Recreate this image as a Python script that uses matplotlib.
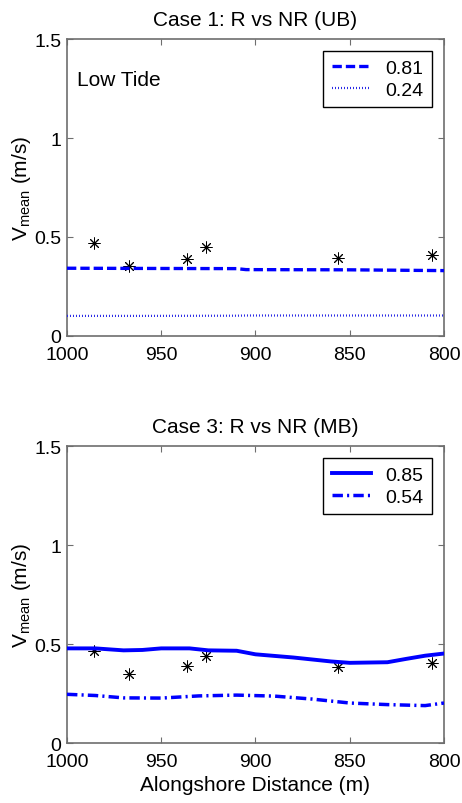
import matplotlib
matplotlib.use("Agg")
import matplotlib.pyplot as plt

plt.rcParams['font.family'] = ['Liberation Sans', 'DejaVu Sans']
plt.rcParams['mathtext.fontset'] = 'custom'
plt.rcParams['mathtext.rm'] = 'Liberation Sans'
plt.rcParams['mathtext.it'] = 'Liberation Sans'

# observations (asterisks)
obs_x = [985.5, 967.3, 936.3, 926.3, 856.4, 806.2]
obs_top = [0.468, 0.355, 0.389, 0.449, 0.395, 0.407]
obs_bot = [0.463, 0.347, 0.387, 0.441, 0.386, 0.405]

# Case 1 model lines
c1_x = [1000, 960, 910, 905, 850, 800]
c1_r = [0.342, 0.341, 0.340, 0.335, 0.334, 0.330]
c1_nr = [0.101, 0.101, 0.102, 0.103, 0.103, 0.103]

# Case 3 model lines
c3_x = [1000, 985, 970, 960, 950, 935, 925, 910, 900, 880, 860, 850, 830, 820, 810, 800]
c3_r = [0.478, 0.478, 0.468, 0.470, 0.478, 0.478, 0.468, 0.466, 0.448, 0.432, 0.412, 0.405, 0.408, 0.425, 0.441, 0.452]
c3_x2 = [1000, 985, 970, 950, 930, 910, 890, 870, 850, 830, 810, 800]
c3_nr = [0.246, 0.240, 0.228, 0.227, 0.238, 0.242, 0.237, 0.222, 0.202, 0.194, 0.189, 0.202]

labels_top = ['0.81', '0.24']
labels_bot = ['0.85', '0.54']

BLUE = '#0000ff'
SPINE = '#6e6e6e'
FS_TICK = 14
FS_TEXT = 15

fig = plt.figure(figsize=(4.62, 8.04), dpi=100)
ax1 = fig.add_axes([0.145, 0.581, 0.816, 0.369])
ax2 = fig.add_axes([0.145, 0.0746, 0.816, 0.3694])

def style(ax):
    ax.set_xlim(1000, 800)
    ax.set_ylim(0, 1.5)
    ax.set_xticks([1000, 950, 900, 850, 800])
    ax.set_yticks([0, 0.5, 1, 1.5])
    ax.set_yticklabels(['0', '0.5', '1', '1.5'])
    ax.tick_params(direction='in', top=True, right=True, length=4,
                   color=SPINE, labelsize=FS_TICK, pad=4)
    ax.tick_params(axis='x', pad=7)
    for s in ax.spines.values():
        s.set_color(SPINE)
        s.set_linewidth(1.2)
    ax.set_ylabel(r'$\mathrm{V_{mean}}$ (m/s)', fontsize=FS_TEXT, labelpad=1)

def legend(ax, handles, labels):
    leg = ax.legend(handles, labels, loc='upper right', fontsize=FS_TICK,
                    fancybox=False, edgecolor='black', framealpha=1,
                    handlelength=2.0, handletextpad=0.75, borderaxespad=0.6,
                    borderpad=0.45, labelspacing=0.2)
    leg.get_frame().set_linewidth(1.0)

MK = dict(linestyle='none', marker=(8, 2, 0), markersize=8.5, color='black',
          markeredgewidth=0.7, zorder=2)

# top panel
ax1.plot(obs_x, obs_top, **MK)
l1, = ax1.plot(c1_x, c1_r, color=BLUE, lw=2.4, dashes=(2.8, 1.2), zorder=3)
l2, = ax1.plot(c1_x, c1_nr, color='#2a2ae6', lw=1.6, dashes=(0.45, 0.9), zorder=3)
style(ax1)
ax1.set_title('Case 1: R vs NR (UB)', fontsize=FS_TEXT, pad=10)
ax1.text(0.027, 0.865, 'Low Tide', transform=ax1.transAxes, fontsize=FS_TEXT,
         va='center', ha='left')
legend(ax1, [l1, l2], labels_top)

# bottom panel
ax2.plot(obs_x, obs_bot, **MK)
l3, = ax2.plot(c3_x, c3_r, color=BLUE, lw=2.8, solid_joinstyle='round', zorder=3)
l4, = ax2.plot(c3_x2, c3_nr, color=BLUE, lw=2.5, dashes=(3.0, 1.2, 0.6, 1.2), zorder=3)
style(ax2)
ax2.set_title('Case 3: R vs NR (MB)', fontsize=FS_TEXT, pad=10)
ax2.set_xlabel('Alongshore Distance (m)', fontsize=FS_TEXT, labelpad=4)
legend(ax2, [l3, l4], labels_bot)

fig.savefig('out.png', dpi=100, facecolor='white')
